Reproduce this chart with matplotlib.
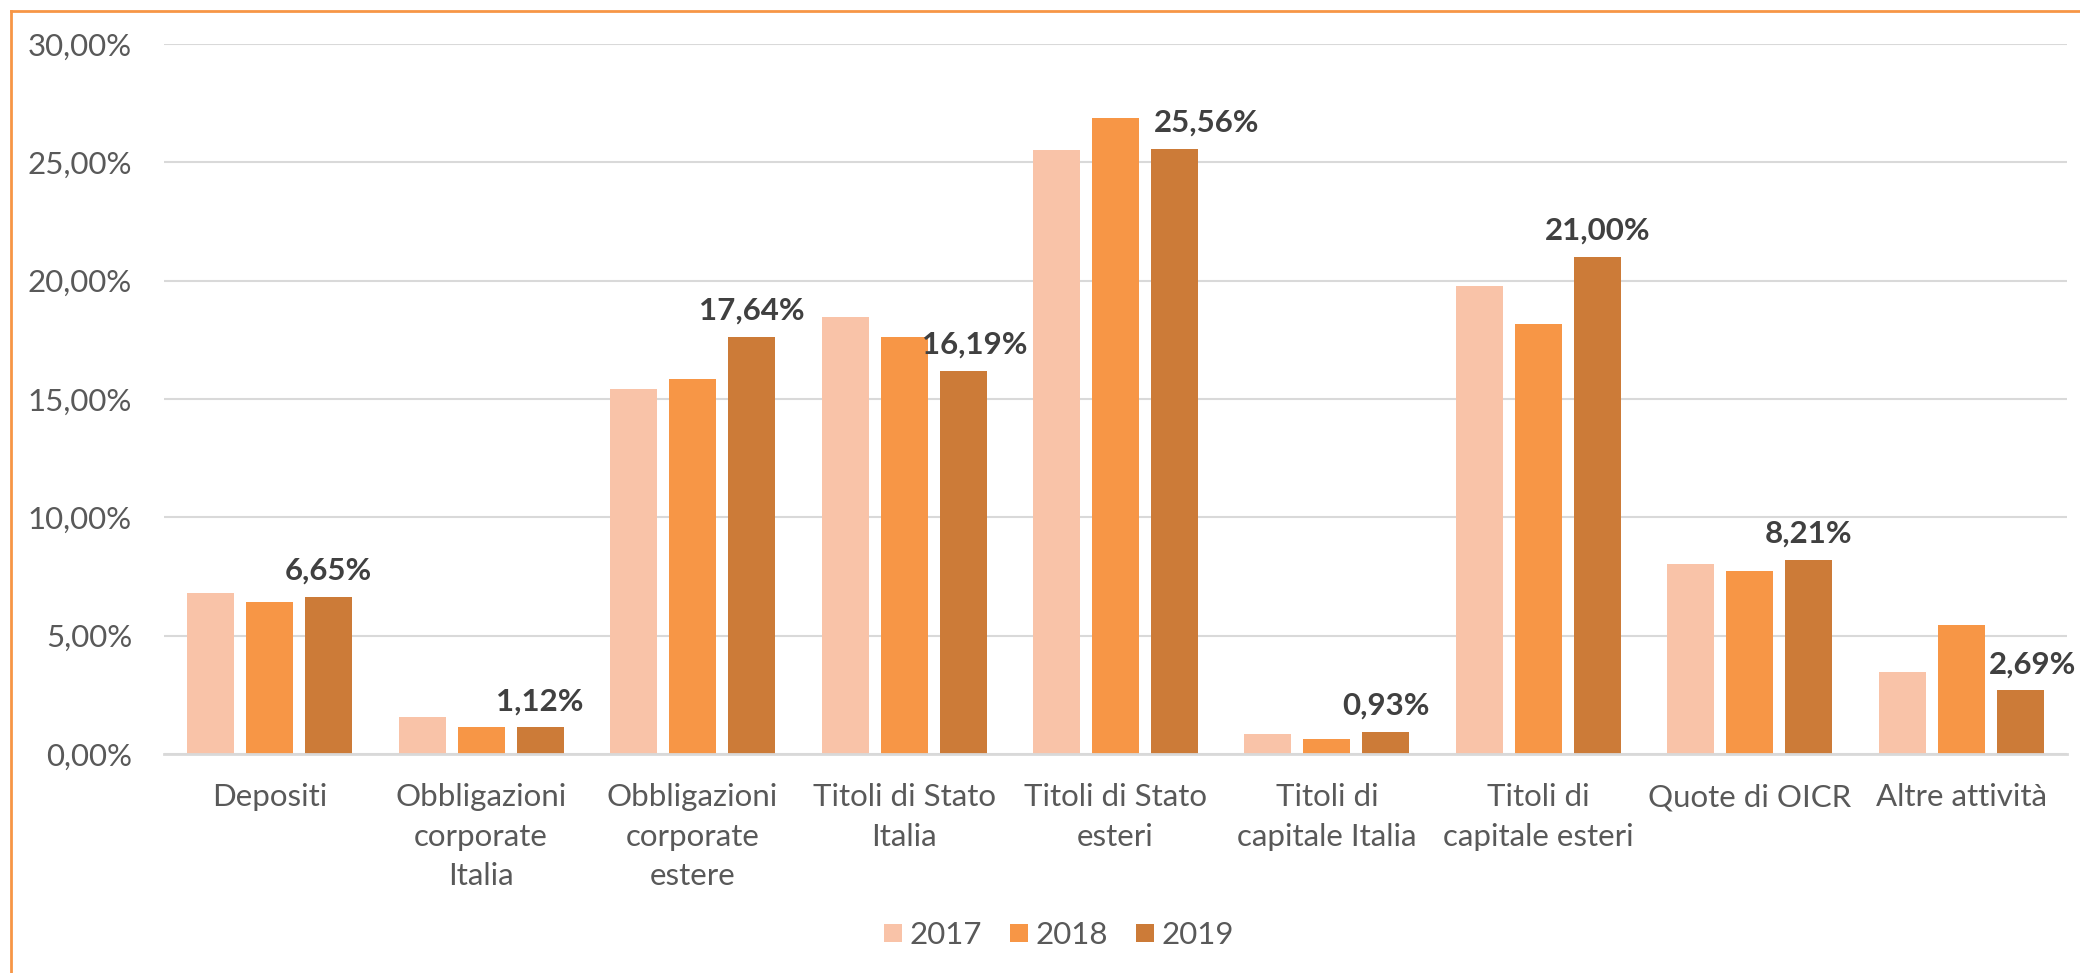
import matplotlib.pyplot as plt
import numpy as np
from matplotlib.lines import Line2D

categories = ["Depositi", "Obbligazioni\ncorporate\nItalia", "Obbligazioni\ncorporate\nestere",
              "Titoli di Stato\nItalia", "Titoli di Stato\nesteri", "Titoli di\ncapitale Italia",
              "Titoli di\ncapitale esteri", "Quote di OICR", "Altre attività"]
years = ["2017", "2018", "2019"]
v2017 = [6.82, 1.55, 15.42, 18.48, 25.51, 0.86, 19.78, 8.01, 3.45]
v2018 = [6.41, 1.14, 15.83, 17.62, 26.89, 0.63, 18.18, 7.72, 5.44]
v2019 = [6.65, 1.12, 17.64, 16.19, 25.56, 0.93, 21.00, 8.21, 2.69]
colors = ["#F9C3A8", "#F79646", "#CC7B38"]

plt.rcParams['font.family'] = ['Lato', 'DejaVu Sans']
FS = 22.5

fig = plt.figure(figsize=(20.8, 9.73), dpi=100)
ax = fig.add_axes([164 / 2080, 1 - 754 / 973, (2067 - 164) / 2080, (754 - 44) / 973])

x = np.arange(len(categories))
pitch = 0.279
width = 0.222
series = [v2017, v2018, v2019]
for i, vals in enumerate(series):
    ax.bar(x + (i - 1) * pitch, vals, width, color=colors[i], label=years[i], zorder=3)

# labels pushed right where they would sit on the taller 2018 bar (in category units)
nudge = {3: 0.057, 4: 0.151, 8: 0.06}
for k, (xi, v) in enumerate(zip(x, v2019)):
    ax.text(xi + pitch + nudge.get(k, 0), v + 0.72, f"{v:.2f}%".replace(".", ","), ha="center",
            va="baseline", fontsize=FS, fontweight="bold", color="#404040", zorder=4)

ax.set_xlim(-0.5, len(categories) - 0.5)
ax.set_ylim(0, 30)
ax.set_yticks(np.arange(0, 31, 5))
ax.set_yticklabels([f"{t:.2f}%".replace(".", ",") for t in np.arange(0, 31, 5)])
ax.set_xticks(x)
ax.set_xticklabels(categories, linespacing=1.5)
ax.tick_params(axis="both", length=0, labelsize=FS, labelcolor="#595959")
ax.tick_params(axis="x", pad=21)
ax.tick_params(axis="y", pad=23)
ax.grid(axis="y", color="#D9D9D9", linewidth=1.5, zorder=0)
for s in ["top", "right", "left"]:
    ax.spines[s].set_visible(False)
ax.spines["bottom"].set_color("#D9D9D9")
ax.spines["bottom"].set_linewidth(2)
ax.spines["bottom"].set_zorder(3)

ax.legend(loc="center", bbox_to_anchor=(1059 / 2080, 1 - 935 / 973), bbox_transform=fig.transFigure,
          ncol=3, frameon=False, fontsize=FS, labelcolor="#595959", handlelength=0.58,
          handleheight=0.55, handletextpad=0.26, columnspacing=0.87)

# orange frame
fig.add_artist(Line2D([11 / 2080, 1.0], [1 - 11 / 973, 1 - 11 / 973], color="#F79646", linewidth=2,
                      transform=fig.transFigure))
fig.add_artist(Line2D([11 / 2080, 11 / 2080], [0, 1 - 11 / 973], color="#F79646", linewidth=2,
                      transform=fig.transFigure))

fig.savefig("out.png", dpi=100)
